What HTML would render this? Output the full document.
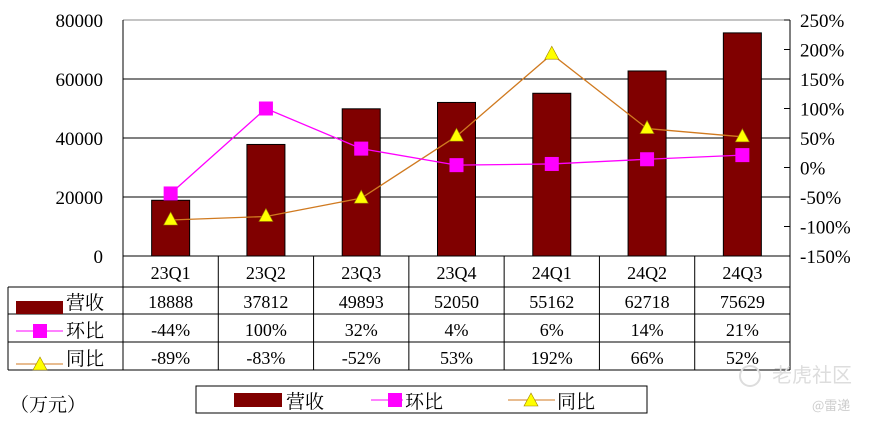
<!DOCTYPE html>
<html><head><meta charset="utf-8"><style>
body{margin:0;background:#fff;}
svg{display:block;font-family:"Liberation Serif","Noto Serif CJK SC","Noto Sans CJK SC",serif;}
</style></head><body>
<svg id="c" width="873" height="426" viewBox="0 0 873 426" xmlns="http://www.w3.org/2000/svg"></svg>
<script>
const categories=["23Q1","23Q2","23Q3","23Q4","24Q1","24Q2","24Q3"];
const revenue=[18888,37812,49893,52050,55162,62718,75629];
const qoq=[-44,100,32,4,6,14,21];
const yoy=[-89,-83,-52,53,192,66,52];
const leftTicks=[0,20000,40000,60000,80000];
const rightTicks=[-150,-100,-50,0,50,100,150,200,250];

const NS="http://www.w3.org/2000/svg";
const svg=document.getElementById('c');
const X0=123,X1=790,YT=20,YB=256;
const cw=(X1-X0)/categories.length;
const yL=v=>YB-(v/80000)*(YB-YT);
const yR=v=>YB-((v+150)/400)*(YB-YT);
const xC=i=>X0+cw*(i+0.5);
function el(t,a,txt){const e=document.createElementNS(NS,t);for(const k in a)e.setAttribute(k,a[k]);if(txt!==undefined)e.textContent=txt;svg.appendChild(e);return e;}

// plot frame
let e=el('line',{x1:X0,y1:YT,x2:X1,y2:YT,stroke:'#888','stroke-width':1});

leftTicks.forEach(v=>{
 if(v>0&&v<80000){const g=el('line',{x1:X0,y1:yL(v),x2:X1,y2:yL(v),stroke:'#000','stroke-width':1});
 }
 const t=el('text',{x:103,y:yL(v)+7,'text-anchor':'end','font-size':19},String(v));
 
});
e=el('line',{x1:X0,y1:YT,x2:X0,y2:YB,stroke:'#000'});

e=el('line',{x1:X1,y1:YT,x2:X1,y2:YB,stroke:'#000'});

rightTicks.forEach(v=>{
 const k=el('line',{x1:X1,y1:yR(v),x2:X1-6,y2:yR(v),stroke:'#000'});
 
 const t=el('text',{x:800,y:yR(v)+7,'font-size':19},v+'%');
 
});
// bars
revenue.forEach((v,i)=>{
 const b=el('rect',{x:xC(i)-19,y:yL(v),width:38,height:YB-yL(v),fill:'#800000',stroke:'#000','stroke-width':1});
 
});
// lines
function pts(arr){return arr.map((v,i)=>xC(i)+','+yR(v)).join(' ');}
e=el('polyline',{points:pts(yoy),fill:'none',stroke:'#d07a20','stroke-width':1.3});

e=el('polyline',{points:pts(qoq),fill:'none',stroke:'#ff00ff','stroke-width':1.3});

qoq.forEach((v,i)=>{const m=el('rect',{x:xC(i)-7,y:yR(v)-7,width:14,height:14,fill:'#ff00ff'});
 });
yoy.forEach((v,i)=>{const x=xC(i),y=yR(v);const m=el('polygon',{points:`${x},${y-8} ${x-7},${y+5} ${x+7},${y+5}`,fill:'#ffff00',stroke:'#a08000','stroke-width':0.6});
 });

// table
const rows=[256,287,314,342,370];
[[X0,256,X1,256]].forEach(()=>{});
e=el('line',{x1:X0,y1:256,x2:X1,y2:256,stroke:'#000'});
[287,314,342,370].forEach(y=>{const l=el('line',{x1:8,y1:y,x2:X1,y2:y,stroke:'#000'});});
e=el('line',{x1:8,y1:287,x2:8,y2:370,stroke:'#000'});
for(let i=0;i<=categories.length;i++){const l=el('line',{x1:X0+cw*i,y1:256,x2:X0+cw*i,y2:370,stroke:'#000'});}
categories.forEach((c,i)=>{
 let t=el('text',{x:xC(i),y:279,'text-anchor':'middle','font-size':18},c);
 t=el('text',{x:xC(i),y:308,'text-anchor':'middle','font-size':18},String(revenue[i]));
 t=el('text',{x:xC(i),y:336,'text-anchor':'middle','font-size':18},qoq[i]+'%');
 t=el('text',{x:xC(i),y:364,'text-anchor':'middle','font-size':18},yoy[i]+'%');
});
// row headers
e=el('rect',{x:16,y:301,width:47,height:13,fill:'#800000'});
e=el('text',{x:66,y:309,'font-size':19},'营收');
e=el('line',{x1:16,y1:331,x2:63,y2:331,stroke:'#ff00ff'});
e=el('rect',{x:33,y:324,width:14,height:14,fill:'#ff00ff'});
e=el('text',{x:66,y:337,'font-size':19},'环比');
e=el('line',{x1:16,y1:364,x2:63,y2:364,stroke:'#d07a20'});
e=el('polygon',{points:'40,357 33,370 47,370',fill:'#ffff00',stroke:'#a08000','stroke-width':0.6});
e=el('text',{x:66,y:365,'font-size':19},'同比');

e=el('text',{x:10,y:411,'font-size':19},'（万元）');
// legend
e=el('rect',{x:196,y:386,width:451,height:27,fill:'#fff',stroke:'#000'});
e=el('rect',{x:234,y:393,width:48,height:14,fill:'#800000'});
e=el('text',{x:286,y:408,'font-size':19},'营收');
e=el('line',{x1:371,y1:400,x2:403,y2:400,stroke:'#ff00ff'});
e=el('rect',{x:388,y:393,width:14,height:14,fill:'#ff00ff'});
e=el('text',{x:405,y:408,'font-size':19},'环比');
e=el('line',{x1:508,y1:400,x2:555,y2:400,stroke:'#d07a20'});
e=el('polygon',{points:'531,393 524,406 538,406',fill:'#ffff00',stroke:'#a08000','stroke-width':0.6});
e=el('text',{x:557,y:408,'font-size':19},'同比');
// watermark
e=el('text',{x:772,y:382,'font-size':20,fill:'#ddd','font-family':'Noto Sans CJK SC, sans-serif'},'老虎社区');
e=el('circle',{cx:750,cy:376,r:10,fill:'none',stroke:'#ddd','stroke-width':2});
e=el('text',{x:812,y:410,'font-size':13,fill:'#ccc','font-family':'Noto Sans CJK SC, sans-serif'},'@雷递');
</script>
</body></html>
